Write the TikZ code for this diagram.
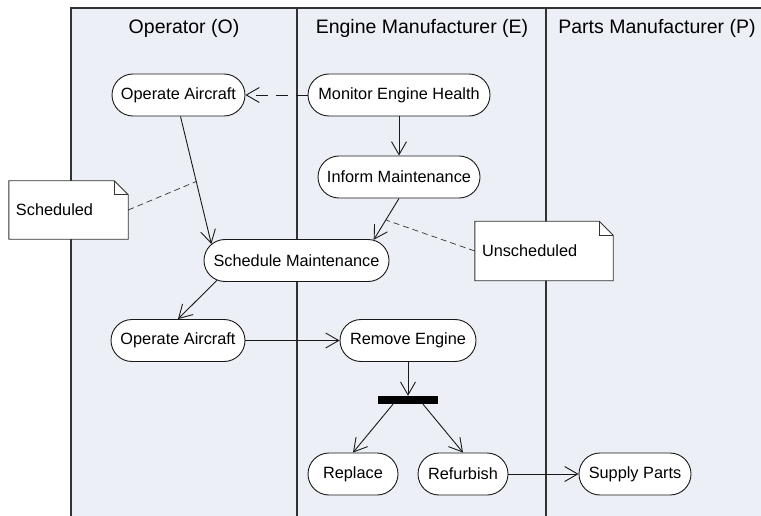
\documentclass[tikz,border=0pt]{standalone}
\usepackage{fontspec}
\setmainfont{Liberation Sans}
\usetikzlibrary{shapes.misc,arrows.meta}
\pgfdeclarelayer{under}
\pgfsetlayers{under,main}
\definecolor{lanefill}{RGB}{236,239,245}
\definecolor{framecol}{RGB}{50,50,50}
\definecolor{inkcol}{RGB}{25,25,25}
\begin{document}
\begin{tikzpicture}[x=1pt,y=-1pt,
  act/.style={rounded rectangle, draw=inkcol, fill=white, line width=0.9pt,
    minimum height=42pt, inner sep=0pt, font=\fontsize{16.3}{18}\selectfont},
  lanehead/.style={font=\fontsize{19.5}{22}\selectfont, inner sep=0pt},
  frameline/.style={draw=framecol, line width=1.4pt},
  flow/.style={draw=inkcol, line width=0.9pt,
    -{Straight Barb[length=13pt,width=15pt]}},
  flowdash/.style={flow, dash pattern=on 12pt off 8pt},
  notetext/.style={inner xsep=7pt, inner ysep=0pt, align=left,
    font=\fontsize{16.3}{18}\selectfont},
  noteshape/.style={draw=framecol, fill=white, line width=0.9pt},
  notelink/.style={draw=framecol, line width=0.7pt, dash pattern=on 6pt off 4pt},
  forkbar/.style={fill=black, minimum width=60pt, minimum height=8pt, inner sep=0pt}
]
\useasboundingbox (0,0) rectangle (761,516);

% swimlanes
\begin{pgfonlayer}{under}
\fill[lanefill] (71,8) rectangle (761,516);
\draw[frameline] (761,8) -- (71,8) -- (71,516);
\draw[frameline] (297,8) -- (297,516);
\draw[frameline] (546,8) -- (546,516);
\end{pgfonlayer}

% lane headers
\node[lanehead] (hO) at (184,28) {Operator (O)};
\node[lanehead] (hE) at (422,28) {Engine Manufacturer (E)};
\node[lanehead] (hP) at (657,28) {Parts Manufacturer (P)};

% activities
\node[act, minimum width=133pt] (op1) at (178.5,95) {Operate Aircraft};
\node[act, minimum width=182pt] (mon) at (399,95) {Monitor Engine Health};
\node[act, minimum width=162pt] (inf) at (399,177) {Inform Maintenance};
\node[act, minimum width=185pt] (sched) at (296.5,260.5) {Schedule Maintenance};
\node[act, minimum width=134pt] (op2) at (178,340.5) {Operate Aircraft};
\node[act, minimum width=136pt] (rem) at (408,340.5) {Remove Engine};
\node[forkbar] (fork) at (408,400) {};
\node[act, minimum width=90pt] (rep) at (353,474) {Replace};
\node[act, minimum width=90pt] (ref) at (463,474) {Refurbish};
\node[act, minimum width=112pt] (sup) at (635,474) {Supply Parts};

% notes
\node[notetext, minimum width=119pt, minimum height=58pt, text width=105pt] (nsch) at (68.5,210) {Scheduled};
\node[notetext, minimum width=138pt, minimum height=59pt, text width=124pt] (nuns) at (544,251) {Unscheduled};
\begin{pgfonlayer}{under}
\foreach \n in {nsch,nuns}{
  \path[noteshape] (\n.south west) -- (\n.north west) -- ([xshift=-14pt]\n.north east)
    -- ([yshift=-14pt]\n.north east) -- (\n.south east) -- cycle;
  \draw[draw=framecol, line width=0.9pt] ([xshift=-14pt]\n.north east)
    -- ([xshift=-14pt,yshift=-14pt]\n.north east) -- ([yshift=-14pt]\n.north east);
}
\end{pgfonlayer}

% flows
\draw[flowdash] (mon.west) -- (op1.east);
\draw[flow] (mon.south) -- (inf.north);
\draw[flow] ([xshift=2pt]op1.south) -- coordinate[pos=0.51] (m1) (sched.169);
\draw[flow] (inf.south) -- coordinate[pos=0.52] (m2) (sched.15);
\draw[flow] (sched.194) -- (op2.north);
\draw[flow] (op2.east) -- (rem.west);
\draw[flow] (rem.south) -- (fork.north);
\draw[flow] ([xshift=-15pt]fork.south) -- (rep.north);
\draw[flow] ([xshift=15pt]fork.south) -- (ref.north);
\draw[flow] (ref.east) -- (sup.west);

% note links
\draw[notelink] (nsch.east) -- (m1);
\draw[notelink] (nuns.west) -- (m2);
\end{tikzpicture}
\end{document}
